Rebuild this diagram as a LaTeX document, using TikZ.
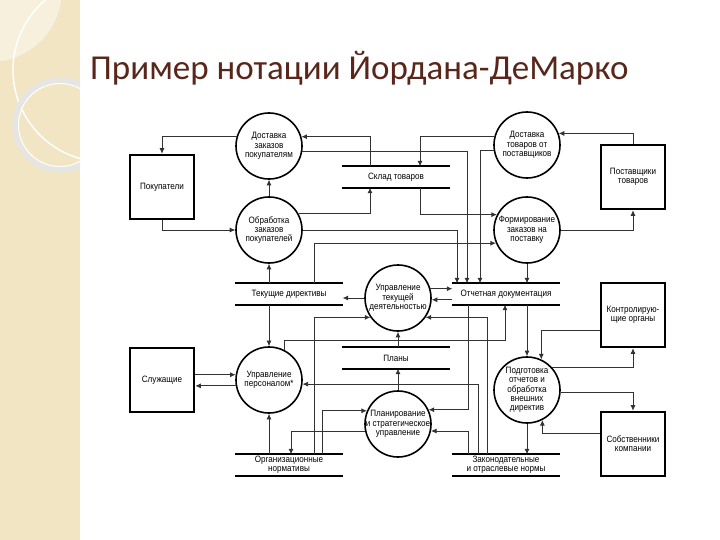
\documentclass[tikz,border=0pt]{standalone}
\usepackage{fontspec}
\setmainfont{Liberation Sans}
\newfontfamily\diagfont[FakeStretch=0.88]{Liberation Sans}
\newfontfamily\titlefont{Carlito}
\usetikzlibrary{arrows.meta}
\definecolor{strip}{RGB}{241,229,196}
\definecolor{stripLight}{RGB}{247,240,220}
\definecolor{titlebrown}{RGB}{88,38,26}
\definecolor{flowgray}{RGB}{50,50,50}

\begin{document}
\begin{tikzpicture}[
        x=1pt, y=-1pt,
        every node/.style={font=\diagfont\fontsize{9.2}{9.3}\selectfont, align=center, inner sep=0pt},
        process/.style={draw, circle, minimum size=66pt, inner sep=-6pt, line width=1.6pt},
        entity/.style={draw, rectangle, minimum size=64pt, line width=2.6pt},
        store/.style={minimum width=107pt, minimum height=21pt},
        flow/.style={draw=flowgray, line width=0.75pt, -{Latex[length=5.5pt,width=5pt]}},
    ]
    \useasboundingbox (0,0) rectangle (720,540);
    % slide background
    \fill[white] (0,0) rectangle (720,540);
    \fill[strip] (0,0) rectangle (80,540);
    \begin{scope}
        \clip (0,0) rectangle (80,540);
        \fill[stripLight] (-10,-10) circle (72);
        \draw[white, line width=1.5pt] (105,70) circle (92);
        \draw[black!10, line width=5pt] (60,125) circle (45);
        \draw[white, line width=1pt] (60,125) circle (41.5);
    \end{scope}
    \node[font=\titlefont\fontsize{35}{40}\selectfont, text=titlebrown, anchor=base west] (title) at (90,80) {Пример нотации Йордана-ДеМарко};

    % processes
    \node[process] (dostZak) at (269,146) {Доставка\\заказов\\покупателям};
    \node[process] (obrZak) at (269,230) {Обработка\\заказов\\покупателей};
    \node[process] (dostTov) at (527,145) {Доставка\\товаров от\\поставщиков};
    \node[process] (formZak) at (527,230) {Формирование\\заказов на\\поставку};
    \node[process] (uprTek) at (398,298) {Управление\\текущей\\деятельностью};
    \node[process] (uprPers) at (269,380) {Управление\\персоналом*};
    \node[process] (plan) at (398,424) {Планирование\\и стратегическое\\управление};
    \node[process] (podgOtch) at (527,390) {Подготовка\\отчетов и\\обработка\\внешних\\директив};

    % external entities
    \node[entity] (pokup) at (162,187) {Покупатели};
    \node[entity] (postav) at (633,177) {Поставщики\\товаров};
    \node[entity] (sluzh) at (162,380) {Служащие};
    \node[entity] (kontr) at (633,315) {Контролирую-\\щие органы};
    \node[entity] (sobstv) at (633,444) {Собственники\\компании};

    % data stores
    \node[store] (sklad) at (396,177) {Склад товаров};
    \node[store] (tekDir) at (289,294) {Текущие директивы};
    \node[store] (otchDoc) at (506,294) {Отчетная документация};
    \node[store] (plany) at (396,358) {Планы};
    \node[store] (orgNorm) at (289,465) {Организационные\\нормативы};
    \node[store] (zakNorm) at (506,465) {Законодательные\\и отраслевые нормы};
    \foreach \s in {sklad,tekDir,otchDoc,plany,orgNorm,zakNorm}
        \draw[line width=1.9pt] (\s.north west) -- (\s.north east) (\s.south west) -- (\s.south east);

    % flows
    \draw[flow] (dostZak.164) -| (pokup.north);
    \draw[flow] ([xshift=-26pt]sklad.north) |- (dostZak.16);
    \draw[flow] (dostZak.-9) -| ([xshift=-39pt]otchDoc.north);
    \draw[flow] (dostTov.166) -| ([xshift=24pt]sklad.north);
    \draw[flow] (dostTov.190) -| ([xshift=-26pt]otchDoc.north);
    \draw[flow] ([xshift=24pt]sklad.south) |- (formZak.153);
    \draw[flow] (obrZak.29) -| ([xshift=-26pt]sklad.south);
    \draw[flow] (obrZak.east) -| ([xshift=-49pt]otchDoc.north);
    \draw[flow] ([xshift=25pt]tekDir.north) |- (formZak.203);
    \draw[flow] (formZak.east) -| (postav.south);
    \draw[flow] (postav.north) |- (dostTov.20);
    \draw[flow] (formZak.south) -- (formZak.south |- otchDoc.north);
    \draw[flow] (pokup.south) |- (obrZak.west);
    \draw[flow] (obrZak) -- (dostZak);
    \draw[flow] (obrZak.south |- tekDir.north) -- (obrZak.south);
    \draw[flow] (uprTek.west) -- (tekDir.east |- uprTek.west);
    \draw[flow] (uprPers.north |- tekDir.south) -- (uprPers.north);
    \draw[flow] (sluzh.east |- uprPers.171) -- (uprPers.171);
    \draw[flow] (uprPers.190) -- (sluzh.east |- uprPers.190);
    \draw[flow] (uprPers.south |- orgNorm.north) -- (uprPers.south);
    \draw[flow] ([xshift=-28pt]zakNorm.north) |- (uprPers.353);
    \draw[flow] (uprPers.63) -- ++(0,-10) -| ([xshift=-1pt]otchDoc.south);
    \draw[flow] ([xshift=25pt]orgNorm.north) |- (uprTek.215);
    \draw[flow] ([xshift=33pt]orgNorm.north) |- (plan.157);
    \draw[flow] (plan.192) -| ([xshift=2pt]orgNorm.north);
    \draw[flow] (plan.north) -- (plan.north |- plany.south);
    \draw[flow] (uprTek.south |- plany.north) -- (uprTek.south);
    \draw[flow] (uprTek.16) -- (otchDoc.west |- uprTek.16);
    \draw[flow] (otchDoc.west |- uprTek.357) -- (uprTek.357);
    \draw[flow] ([xshift=-19pt]zakNorm.north) |- (uprTek.325);
    \draw[flow] ([xshift=-38pt]otchDoc.south) |- (plan.25);
    \draw[flow] ([xshift=-38pt]zakNorm.north) |- (plan.348);
    \draw[flow] (podgOtch.north |- otchDoc.south) -- (podgOtch.north);
    \draw[flow] ([yshift=-15pt]kontr.west) -| (podgOtch.65);
    \draw[flow] (podgOtch.42) -| (kontr.south);
    \draw[flow] (podgOtch.-4) -| (sobstv.north);
    \draw[flow] ([yshift=11pt]sobstv.west) -| (podgOtch.-63);
    \draw[flow] (podgOtch.south) -- (podgOtch.south |- zakNorm.north);
\end{tikzpicture}
\end{document}
